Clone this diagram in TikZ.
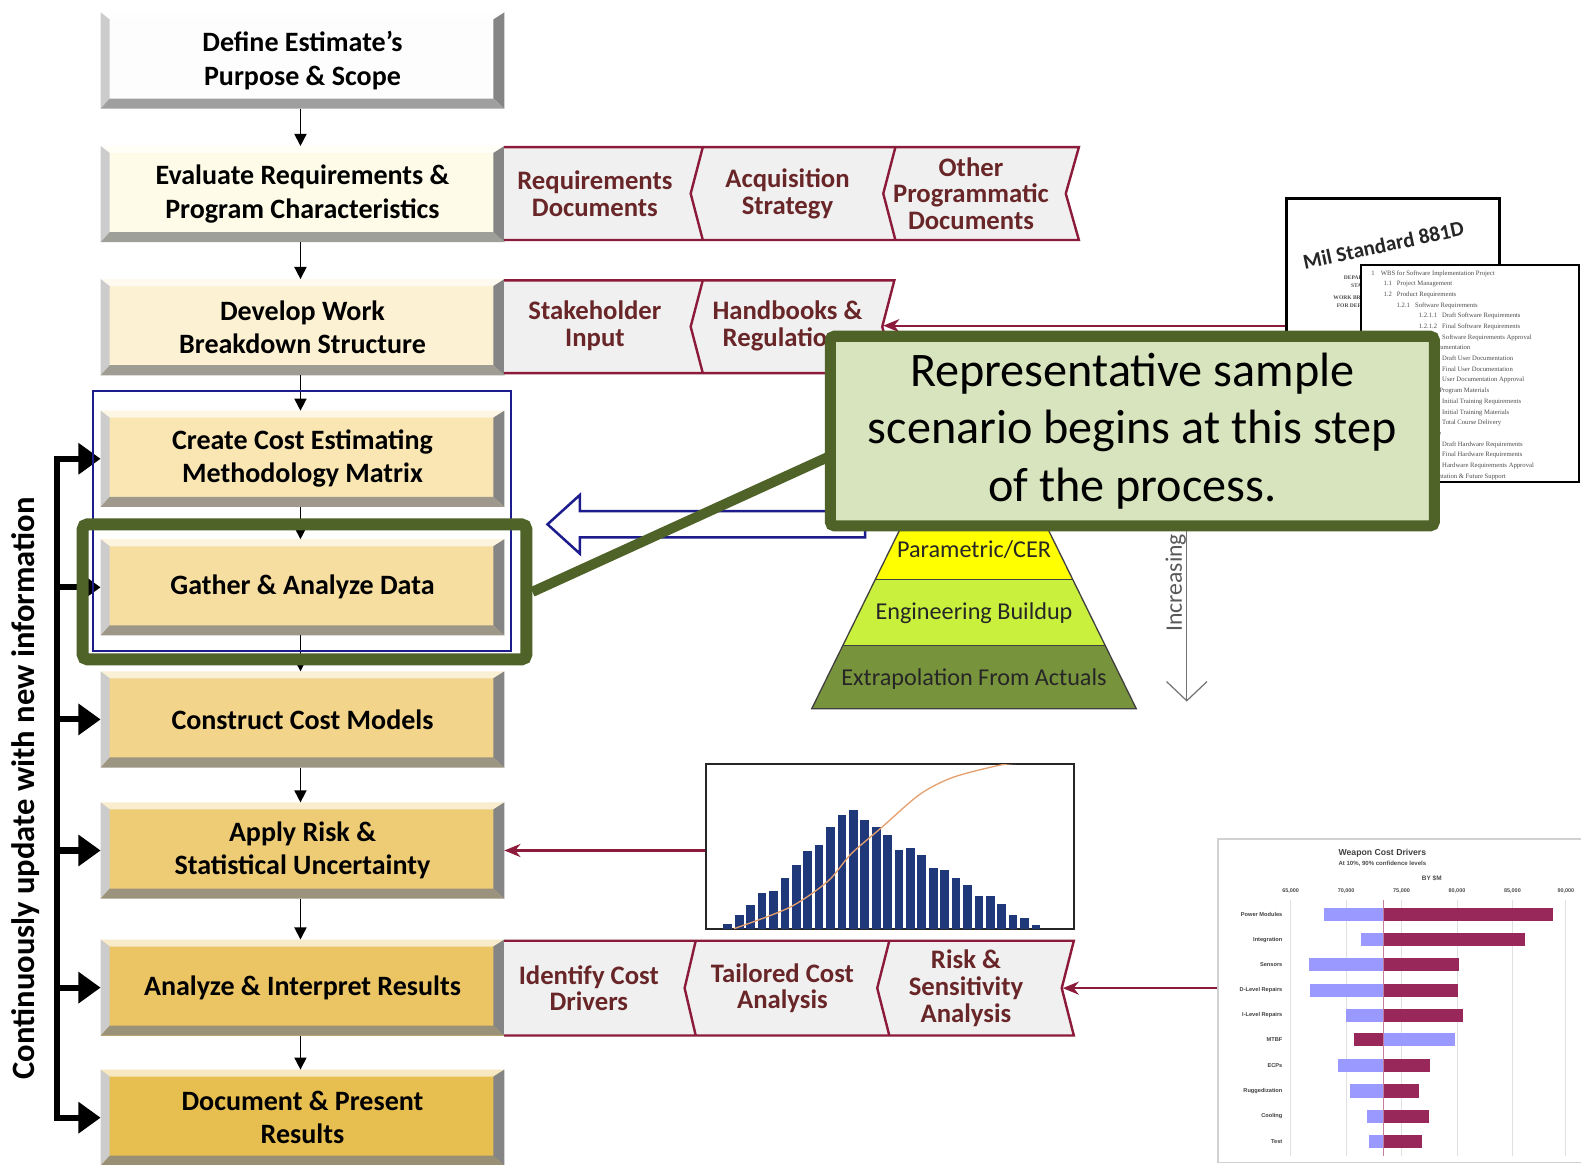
\documentclass[tikz,border=0pt]{standalone}
\usepackage{fontspec}
\setmainfont{Carlito}
\newfontfamily\docfont{Liberation Serif}
\newfontfamily\chartfont{Liberation Sans}
\usetikzlibrary{arrows.meta,calc}

\definecolor{boxA}{RGB}{253,253,253}
\definecolor{boxB}{RGB}{254,252,232}
\definecolor{boxC}{RGB}{252,241,210}
\definecolor{boxD}{RGB}{249,230,179}
\definecolor{boxE}{RGB}{246,222,161}
\definecolor{boxF}{RGB}{242,212,138}
\definecolor{boxG}{RGB}{238,204,118}
\definecolor{boxH}{RGB}{235,197,100}
\definecolor{boxI}{RGB}{231,190,80}
\definecolor{maroonline}{RGB}{140,26,58}
\definecolor{chevtxt}{RGB}{105,38,40}
\definecolor{navyline}{RGB}{28,28,140}
\definecolor{olivedark}{RGB}{79,98,40}
\definecolor{calloutfill}{RGB}{215,228,189}
\definecolor{pyrA}{RGB}{255,255,0}
\definecolor{pyrB}{RGB}{200,240,60}
\definecolor{pyrC}{RGB}{119,147,60}
\definecolor{histbar}{RGB}{31,56,122}
\definecolor{cdfline}{RGB}{230,160,110}
\definecolor{tblue}{RGB}{153,153,255}
\definecolor{tred}{RGB}{153,40,90}

% bevelled process step: name, centre y, fill colour, text
\newcommand{\procstep}[4]{%
  \node[stage, fill=#3] (#1) at (300,#2) {#4};
  \fill[#3!35!white] (#1.north west) -- (#1.north east) -- ([shift={(-11pt,-7pt)}]#1.north east) -- ([shift={(9pt,-7pt)}]#1.north west) -- cycle;
  \fill[black!20] (#1.north west) -- ([shift={(9pt,-7pt)}]#1.north west) -- ([shift={(9pt,10pt)}]#1.south west) -- (#1.south west) -- cycle;
  \fill[black!48] (#1.north east) -- (#1.south east) -- ([shift={(-11pt,10pt)}]#1.south east) -- ([shift={(-11pt,-7pt)}]#1.north east) -- cycle;
  \fill[gray!75!#3] (#1.south west) -- (#1.south east) -- ([shift={(-11pt,10pt)}]#1.south east) -- ([shift={(9pt,10pt)}]#1.south west) -- cycle;
}

\begin{document}
\begin{tikzpicture}[x=1pt,y=-1pt,
  stage/.style={minimum width=400pt, minimum height=95pt, inner sep=0pt, align=center,
    font=\fontsize{27.8}{33}\selectfont\bfseries},
  chevtext/.style={align=center, inner sep=0pt, text=chevtxt,
    font=\fontsize{26.5}{26.5}\selectfont\bfseries},
  chevfill/.style={fill=black!6},
  chevline/.style={draw=maroonline, line width=2.4pt, line join=miter},
  flow/.style={-{Triangle[length=12pt,width=12pt]}, line width=1.6pt},
  feedback/.style={-{Triangle[length=22pt,width=30pt]}, line width=6pt},
  redarrow/.style={-{Stealth[length=16pt,width=13pt]}, draw=maroonline, line width=2pt},
  pyrtext/.style={inner sep=0pt, text=black!85, font=\fontsize{24}{26}\selectfont},
  tlabel/.style={inner sep=0pt, font=\chartfont\fontsize{5.6}{6}\selectfont\bfseries, text=black!75},
]
\useasboundingbox (0,0) rectangle (1568,1155);
\fill[white] (0,0) rectangle (1568,1155);

% ---------- process steps ----------
\procstep{b1}{60}{boxA}{Define Estimate’s\\Purpose \& Scope}
\procstep{b2}{192.5}{boxB}{Evaluate Requirements \&\\Program Characteristics}
\procstep{b3}{324.5}{boxC}{Develop Work\\Breakdown Structure}
\procstep{b4}{455}{boxD}{Create Cost Estimating\\Methodology Matrix}
\procstep{b5}{582.5}{boxE}{Gather \& Analyze Data}
\procstep{b6}{713.5}{boxF}{Construct Cost Models}
\procstep{b7}{843.5}{boxG}{Apply Risk \&\\Statistical Uncertainty}
\procstep{b8}{979.5}{boxH}{Analyze \& Interpret Results}
\procstep{b9}{1108.5}{boxI}{Document \& Present\\Results}

\foreach \a/\b in {b1/b2,b2/b3,b3/b4,b4/b5,b5/b6,b6/b7,b7/b8,b8/b9}
  \draw[flow] ([xshift=-2pt]\a.south) -- ([xshift=-2pt]\b.north);

% ---------- feedback loop ----------
\coordinate (fbtop) at (57,455);
\coordinate (fbbot) at (57,1108.5);
\draw[line width=6pt, line cap=rect] (fbtop) -- (fbbot);
\foreach \b in {b4,b5,b6,b7,b8,b9}
  \draw[feedback] (fbtop |- \b.west) -- (\b.west);
\node[rotate=90, inner sep=0pt, font=\fontsize{32.3}{34}\selectfont\bfseries] (fbtext) at (25,782)
  {Continuously update with new information};

% ---------- outline round steps 4 and 5 ----------
\draw[navyline, line width=2.2pt] (92,388) rectangle (507,646);

% ---------- input chevrons ----------
\fill[chevfill] (500,146) -- (1070,146) -- (1057,192) -- (1070,238) -- (500,238) -- cycle;
\draw[chevline] (500,146) -- (1070,146) -- (1057,192) -- (1070,238) -- (500,238);
\draw[chevline] (697,146) -- (685,192) -- (697,238);
\draw[chevline] (888,146) -- (876,192) -- (888,238);
\node[chevtext] (req) at (590,192) {Requirements\\Documents};
\node[chevtext] (acq) at (781,192) {Acquisition\\Strategy};
\node[chevtext] (oth) at (963,192) {Other\\Programmatic\\Documents};

\fill[chevfill] (500,278) -- (887,278) -- (875,324) -- (887,370) -- (500,370) -- cycle;
\draw[chevline] (500,278) -- (887,278) -- (875,324) -- (887,370) -- (500,370);
\draw[chevline] (697,278) -- (685,324) -- (697,370);
\coordinate (hbnotch) at (876,323);
\node[chevtext] (stk) at (590,323) {Stakeholder\\Input};
\node[chevtext] (hbk) at (781,323) {Handbooks \&\\Regulations};

\fill[chevfill] (500,933) -- (1065,933) -- (1053,980) -- (1065,1027) -- (500,1027) -- cycle;
\draw[chevline] (500,933) -- (1065,933) -- (1053,980) -- (1065,1027) -- (500,1027);
\draw[chevline] (690,933) -- (679,980) -- (690,1027);
\draw[chevline] (882,933) -- (870,980) -- (882,1027);
\coordinate (rsnotch) at (1054,980);
\node[chevtext] (idc) at (584,980) {Identify Cost\\Drivers};
\node[chevtext] (tca) at (776,980) {Tailored Cost\\Analysis};
\node[chevtext] (rsa) at (958,980) {Risk \&\\Sensitivity\\Analysis};

% ---------- standards documents ----------
\node[draw=black, line width=2.5pt, fill=white, minimum width=211pt, minimum height=133pt, inner sep=0pt]
  (doc1) at (1381.5,263.5) {};
\node[rotate=12, inner sep=0pt, font=\fontsize{21}{22}\selectfont\bfseries, text=black!85]
  (doc1title) at (1372,243) {Mil Standard 881D};
\begin{scope}
  \clip (1278,265) rectangle (1349,328);
  \node[inner sep=0pt, align=center, font=\docfont\fontsize{5.5}{8}\selectfont\bfseries, text=black!70]
    (doc1sub) at (1370,289) {DEPARTMENT OF DEFENSE\\STANDARD PRACTICE\\[4pt]WORK BREAKDOWN STRUCTURES\\FOR DEFENSE MATERIEL ITEMS};
\end{scope}
\node[draw=black, line width=2.5pt, fill=white, minimum width=216pt, minimum height=215pt, inner sep=0pt]
  (doc2) at (1458,370.5) {};
\node[anchor=north west, inner sep=0pt, align=left, text=black!70,
  font=\docfont\fontsize{6.6}{10.6}\selectfont] (doc2text) at (1360,268) {%
1\hspace{6pt}WBS for Software Implementation Project\\
\hspace{12pt}1.1\hspace{5pt}Project Management\\
\hspace{12pt}1.2\hspace{5pt}Product Requirements\\
\hspace{25pt}1.2.1\hspace{5pt}Software Requirements\\
\hspace{47pt}1.2.1.1\hspace{5pt}Draft Software Requirements\\
\hspace{47pt}1.2.1.2\hspace{5pt}Final Software Requirements\\
\hspace{47pt}1.2.1.3\hspace{5pt}Software Requirements Approval\\
\hspace{25pt}1.2.2\hspace{5pt}User Documentation\\
\hspace{47pt}1.2.2.1\hspace{5pt}Draft User Documentation\\
\hspace{47pt}1.2.2.2\hspace{5pt}Final User Documentation\\
\hspace{47pt}1.2.2.3\hspace{5pt}User Documentation Approval\\
\hspace{25pt}1.2.3\hspace{5pt}Training Program Materials\\
\hspace{47pt}1.2.3.1\hspace{5pt}Initial Training Requirements\\
\hspace{47pt}1.2.3.2\hspace{5pt}Initial Training Materials\\
\hspace{47pt}1.2.3.3\hspace{5pt}Total Course Delivery\\
\hspace{25pt}1.2.4\hspace{5pt}Hardware\\
\hspace{47pt}1.2.4.1\hspace{5pt}Draft Hardware Requirements\\
\hspace{47pt}1.2.4.2\hspace{5pt}Final Hardware Requirements\\
\hspace{47pt}1.2.4.3\hspace{5pt}Hardware Requirements Approval\\
\hspace{25pt}1.2.5\hspace{5pt}Implementation \& Future Support};
\draw[redarrow] (doc1.west |- hbnotch) -- (hbnotch);

% ---------- estimating methods pyramid ----------
\fill[pyrA] (895,520) -- (1037,520) -- (1064,575) -- (868,575) -- cycle;
\fill[pyrB] (868,575) -- (1064,575) -- (1096,640) -- (836,640) -- cycle;
\fill[pyrC] (836,640) -- (1096,640) -- (1127,703) -- (805,703) -- cycle;
\draw[black!75, line width=1.3pt] (895,520) -- (805,703) -- (1127,703) -- (1037,520);
\draw[black!75, line width=1.2pt] (868,575) -- (1064,575) (836,640) -- (1096,640);
\node[pyrtext] (pcer) at (966,545) {Parametric/CER};
\node[pyrtext] (engb) at (966,608) {Engineering Buildup};
\node[pyrtext] (extr) at (966,673) {Extrapolation From Actuals};

\coordinate (inctop) at (1177,520);
\coordinate (incbot) at (1177,695);
\draw[black!55, line width=1.2pt] (inctop) -- (incbot);
\draw[black!55, line width=1.2pt] (1157,676) -- (incbot) -- (1197,676);
\node[rotate=90, inner sep=0pt, text=black!65, font=\fontsize{23.5}{25}\selectfont] (inctext) at (1166,578) {Increasing};

% ---------- risk distribution ----------
\node[draw=black!85, line width=1.8pt, fill=white, minimum width=365pt, minimum height=163pt, inner sep=0pt]
  (hist) at (882.5,839.5) {};
\begin{scope}
  \clip (700,758) rectangle (1065,921);
  \foreach \h [count=\i from 0] in {4.9,13.2,23,35.5,37,50,63.5,76.6,83,101,112.5,117.4,108,101,92.8,78.3,80,73,60,58.5,50,43.7,32,32,24,14,11,3.3}
    \fill[histbar] ({721.8+11.32*\i-4.3},921) rectangle ({721.8+11.32*\i+4.3},{921-\h});
  \draw[cdfline, line width=1.3pt] plot[smooth] coordinates
    {(728,921) (783,900) (821,874) (844,847) (874,821) (912,788) (945,771) (991,759) (1010,757)};
\end{scope}
\draw[redarrow] (hist.west |- b7.east) -- (b7.east);

% ---------- cost driver tornado chart ----------
\node[draw=black!18, line width=1.2pt, fill=white, minimum width=367pt, minimum height=321pt, inner sep=0pt]
  (torn) at (1391.5,992.5) {};
\node[inner sep=0pt, font=\chartfont\fontsize{8.6}{9}\selectfont\bfseries, text=black!75] (ttitle) at (1371,846) {Weapon Cost Drivers};
\node[inner sep=0pt, font=\chartfont\fontsize{6}{7}\selectfont\bfseries, text=black!70] (tsub) at (1371,857) {At 10\%, 90\% confidence levels};
\node[inner sep=0pt, font=\chartfont\fontsize{6.4}{7}\selectfont\bfseries, text=black!70] (tunit) at (1420,871) {BY \$M};
\foreach \v/\x in {65/1280,70/1335,75/1390,80/1445,85/1500,90/1553} {
  \draw[black!12, line width=0.8pt] (\x,893) -- (\x,1146);
  \node[inner sep=0pt, font=\chartfont\fontsize{5.4}{6}\selectfont\bfseries, text=black!70] (tax\v) at (\x,884) {\v,000};
}
\foreach \lab/\y/\lo/\hi/\cl/\cr in {Power Modules/907/1313/1540/tblue/tred,
    Integration/932/1350/1512/tblue/tred, Sensors/957/1298/1447/tblue/tred,
    D-Level Repairs/982/1299/1446/tblue/tred, I-Level Repairs/1007/1335/1451/tblue/tred,
    MTBF/1031/1343/1443/tred/tblue, ECPs/1057/1327/1418/tblue/tred,
    Ruggedization/1082/1339/1407/tblue/tred, Cooling/1107/1356/1417/tblue/tred,
    Test/1132/1358/1410/tblue/tred} {
  \fill[\cl] (\lo,\y-6.5) rectangle (1372,\y+6.5);
  \fill[\cr] (1372,\y-6.5) rectangle (\hi,\y+6.5);
  \node[tlabel, anchor=east] (tl\y) at (1272,\y) {\lab};
}
\draw[tred!60, line width=0.8pt] (1372,893) -- (1372,1146);
\draw[redarrow] (torn.west |- rsnotch) -- (rsnotch);

% ---------- data flow into the methodology matrix ----------
\draw[navyline, line width=2.5pt, fill=white, line join=miter]
  (543,520) -- (575,491) -- (575,507) -- (858,507) -- (858,533) -- (575,533) -- (575,549) -- cycle;

% ---------- highlighted step and its note ----------
\node[draw=olivedark, line width=12pt, rounded corners=5pt, minimum width=440pt, minimum height=134pt, inner sep=0pt]
  (hl) at (302,587) {};
\coordinate (calloutfoot) at (824,452);
\draw[olivedark, line width=10pt] (hl.east) -- (calloutfoot);
\node[draw=olivedark, fill=calloutfill, line width=11pt, rounded corners=4pt,
  minimum width=599pt, minimum height=188pt, inner sep=0pt, align=center,
  font=\fontsize{47.8}{57}\selectfont] (callout) at (1123,427.5)
  {Representative sample\\scenario begins at this step\\of the process.};
\end{tikzpicture}
\end{document}
